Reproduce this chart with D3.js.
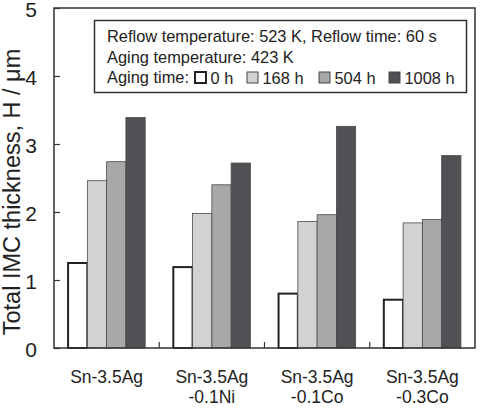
<!DOCTYPE html>
<html>
<head>
<meta charset="utf-8">
<script src="https://cdn.jsdelivr.net/npm/d3@7"></script>
<style>
  body { margin: 0; background: #fff; }
  svg text { font-family: "Liberation Sans", Arial, sans-serif; fill: #222; }
</style>
</head>
<body>
<svg id="myGraph" width="480" height="408"></svg>
<script>
var alloys = ["Sn-3.5Ag", "Sn-3.5Ag|-0.1Ni", "Sn-3.5Ag|-0.1Co", "Sn-3.5Ag|-0.3Co"]
var agingTimes = ["0 h", "168 h", "504 h", "1008 h"]
var h0 = [1.25, 1.19, 0.80, 0.71]
var h168 = [2.46, 1.98, 1.86, 1.84]
var h504 = [2.74, 2.40, 1.96, 1.89]
var h1008 = [3.39, 2.72, 3.26, 2.83]
var yTicks = [0, 1, 2, 3, 4, 5]

var series = [h0, h168, h504, h1008]
var fills = ["#ffffff", "#d2d2d2", "#a8a8a8", "#505155"]

var pL = 54, pR = 475, pT = 8, pB = 348
var svg = d3.select("#myGraph")

var x = d3.scaleBand().domain(alloys).range([pL, pR])
var xi = d3.scaleBand().domain(agingTimes).range([0, x.bandwidth()]).paddingOuter(0.73)
var y = d3.scaleLinear().domain([0, 5]).range([pB, pT])

// bars
var groups = svg.selectAll(".grp")
  .data(alloys)
  .enter()
  .append("g")
  .attr("transform", function(d){ return "translate(" + x(d) + ",0)" })

groups.selectAll("rect")
  .data(function(d, i){
    return agingTimes.map(function(t, j){ return {t: t, v: series[j][i], j: j} })
  })
  .enter()
  .append("rect")
  .attr("x", function(d){ return xi(d.t) })
  .attr("width", xi.bandwidth())
  .attr("y", function(d){ return y(d.v) })
  .attr("height", function(d){ return pB - y(d.v) })
  .style("fill", function(d){ return fills[d.j] })
  .style("stroke", function(d){ return d.j == 0 ? "#222" : "#4a4a4a" })
  .style("stroke-width", function(d){ return d.j == 0 ? 2 : 0.8 })

// frame
svg.append("rect")
  .attr("x", pL).attr("y", pT)
  .attr("width", pR - pL).attr("height", pB - pT)
  .style("fill", "none").style("stroke", "#333").style("stroke-width", 1.5)

// y axis, ticks inward
var yAxis = d3.axisRight(y).tickValues(yTicks).tickSize(6).tickFormat("")
svg.append("g")
  .attr("transform", "translate(" + pL + ",0)")
  .call(yAxis)
  .call(function(g){
    g.select(".domain").remove()
    g.selectAll("line").style("stroke", "#333").style("stroke-width", 1.2)
  })

svg.selectAll(".ylab")
  .data(yTicks)
  .enter()
  .append("text")
  .attr("class", "ylab")
  .attr("x", 37)
  .attr("y", function(d){ return y(d) + 8.5 })
  .attr("text-anchor", "end")
  .attr("font-size", "21px")
  .text(function(d){ return d })

svg.append("text")
  .attr("transform", "translate(20,192) rotate(-90)")
  .attr("text-anchor", "middle")
  .attr("font-size", "23.5px")
  .text("Total IMC thickness, H / μm")

// group separators on x axis
svg.selectAll(".sep")
  .data(alloys.slice(1))
  .enter()
  .append("line")
  .attr("x1", function(d){ return x(d) }).attr("x2", function(d){ return x(d) })
  .attr("y1", pB).attr("y2", pB - 6)
  .style("stroke", "#333").style("stroke-width", 1.2)

// x labels
var xl = svg.selectAll(".xlab")
  .data(alloys)
  .enter()
  .append("text")
  .attr("class", "xlab")
  .attr("text-anchor", "middle")
  .attr("font-size", "17.5px")

xl.selectAll("tspan")
  .data(function(d){
    var c = x(d) + x.bandwidth() / 2
    return d.split("|").map(function(s, k){ return {s: s, c: c, k: k} })
  })
  .enter()
  .append("tspan")
  .attr("x", function(d){ return d.c })
  .attr("y", function(d){ return 383 + d.k * 20 })
  .text(function(d){ return d.s })

// legend
svg.append("rect")
  .attr("x", 94.5).attr("y", 20.5)
  .attr("width", 372).attr("height", 72)
  .style("fill", "#fff").style("stroke", "#333").style("stroke-width", 1.5)

svg.append("text").attr("x", 107).attr("y", 42).attr("font-size", "16.4px")
  .text("Reflow temperature: 523 K, Reflow time: 60 s")
svg.append("text").attr("x", 107).attr("y", 63).attr("font-size", "16.4px")
  .text("Aging temperature: 423 K")
svg.append("text").attr("x", 107).attr("y", 83).attr("font-size", "16.4px")
  .text("Aging time:")

var legX = [195, 247, 319, 389]
var leg = svg.selectAll(".leg")
  .data(agingTimes)
  .enter()
  .append("g")
  .attr("transform", function(d, i){ return "translate(" + legX[i] + ",72)" })

leg.append("rect")
  .attr("width", 11).attr("height", 11)
  .style("fill", function(d, i){ return fills[i] })
  .style("stroke", function(d, i){ return i == 0 ? "#222" : "#444" })
  .style("stroke-width", function(d, i){ return i == 0 ? 2 : 1 })

leg.append("text")
  .attr("x", 15.5).attr("y", 11.5)
  .attr("font-size", "16.4px")
  .text(function(d){ return d })
</script>
</body>
</html>
